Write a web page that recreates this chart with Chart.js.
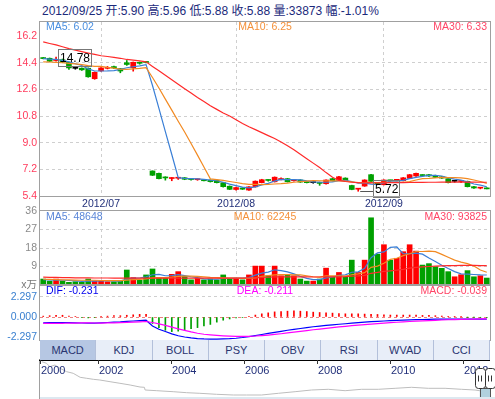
<!DOCTYPE html>
<html>
<head>
<meta charset="utf-8">
<script src="https://cdn.jsdelivr.net/npm/chart.js@4.4.1/dist/chart.umd.min.js"></script>
<style>
  body { margin: 0; background: #fff; width: 495px; height: 399px; overflow: hidden; position: relative;
         font-family: "Liberation Sans", Arial, "Noto Sans CJK SC", sans-serif; }
  canvas { position: absolute; left: 0; }
  #title { position: absolute; left: 42px; top: 1px; font-size: 12px; color: #1b2a7b; white-space: nowrap; }
  #unit { position: absolute; left: 10px; width: 27px; top: 276px; font-size: 10.5px; color: #777; text-align: right; }
  #gapLine { position: absolute; left: 39px; top: 196px; width: 1px; height: 15px; background: #a0a0a0; }
  #tabs { position: absolute; left: 40px; top: 340px; width: 450px; height: 20px; display: flex; background: #e8eef8; z-index: 2; }
  #tabs div { width: 56.25px; height: 20px; line-height: 20px; text-align: center; font-size: 11px; color: #2a3570;
              border-right: 1px solid #b3c0da; box-sizing: border-box; }
  #tabs div.on { background: #b6c7e3; }
  #strip { position: absolute; left: 40px; top: 397px; width: 455px; height: 2px; background: #dde8f0; }
</style>
</head>
<body>
<div id="title"></div>
<canvas id="priceChart" width="495" height="196" style="top:16px"></canvas>
<canvas id="volChart" width="495" height="86" style="top:205px"></canvas>
<canvas id="macdChart" width="495" height="67" style="top:279px"></canvas>
<div id="gapLine"></div>
<div id="unit">x万</div>
<div id="tabs"></div>
<canvas id="navChart" width="495" height="41" style="top:358px"></canvas>
<div id="strip"></div>
<script>
const dates = [
  "2012/06/18","2012/06/19","2012/06/20","2012/06/21","2012/06/25","2012/06/26","2012/06/27","2012/06/28","2012/06/29",
  "2012/07/02","2012/07/03","2012/07/04","2012/07/05","2012/07/06","2012/07/09","2012/07/10","2012/07/12","2012/07/13",
  "2012/07/16","2012/07/17","2012/07/18","2012/07/19","2012/07/20","2012/07/23","2012/07/24","2012/07/25","2012/07/26",
  "2012/07/27","2012/07/30","2012/07/31",
  "2012/08/01","2012/08/02","2012/08/03","2012/08/06","2012/08/07","2012/08/08","2012/08/09","2012/08/10","2012/08/13",
  "2012/08/14","2012/08/15","2012/08/16","2012/08/17","2012/08/20","2012/08/21","2012/08/22","2012/08/23","2012/08/24",
  "2012/08/27","2012/08/28","2012/08/29","2012/08/30","2012/08/31",
  "2012/09/03","2012/09/04","2012/09/05","2012/09/06","2012/09/07","2012/09/10","2012/09/11","2012/09/12","2012/09/13",
  "2012/09/14","2012/09/17","2012/09/18","2012/09/19","2012/09/20","2012/09/21","2012/09/24","2012/09/25"
];

const opens = [14.72,14.70,14.55,14.60,14.42,14.02,14.03,14.03,13.32,13.85,14.02,14.14,14.00,14.40,14.06,14.40,14.46,
  7.09,6.93,6.64,6.58,6.60,6.63,6.53,6.50,6.50,6.47,6.45,6.30,6.06,5.84,5.94,5.80,6.02,6.30,6.47,6.36,6.50,6.57,6.43,
  6.48,6.37,6.30,6.27,6.23,6.57,6.45,6.61,6.11,5.86,6.07,6.84,6.30,6.16,6.45,6.46,6.43,6.59,6.75,6.80,
  6.84,6.79,6.70,6.57,6.39,6.38,6.39,6.03,5.93,5.90];
const highs = [14.75,14.72,14.78,14.65,14.45,14.08,14.05,14.05,13.78,14.08,14.15,14.18,14.02,14.55,14.45,14.45,14.50,
  7.10,6.95,6.70,6.64,6.66,6.65,6.56,6.55,6.52,6.49,6.47,6.31,6.08,6.00,5.96,6.04,6.42,6.53,6.50,6.69,6.62,6.59,6.53,
  6.50,6.40,6.34,6.34,6.50,6.59,6.72,6.63,6.13,5.92,6.50,6.86,6.32,6.50,6.47,6.52,6.65,6.86,6.95,6.84,
  6.86,6.81,6.72,6.59,6.42,6.44,6.41,6.05,5.98,5.96];
const lows = [14.66,14.46,14.50,14.40,13.95,13.96,13.88,13.42,13.28,13.82,13.98,14.00,13.72,14.22,13.83,14.30,14.38,
  6.78,6.55,6.47,6.43,6.52,6.50,6.47,6.46,6.41,6.34,6.28,6.00,5.83,5.80,5.84,5.78,6.00,6.28,6.40,6.34,6.48,6.34,6.40,
  6.31,6.28,6.26,6.12,6.20,6.41,6.43,6.40,5.82,5.72,6.05,6.37,6.19,6.14,6.38,6.42,6.41,6.57,6.72,6.74,
  6.72,6.64,6.58,6.28,6.33,6.30,6.01,5.92,5.88,5.88];
const closes = [14.68,14.50,14.62,14.45,14.05,14.02,13.92,13.45,13.75,14.05,14.06,14.05,13.84,14.28,14.43,14.36,14.42,
  6.80,6.57,6.62,6.60,6.62,6.53,6.51,6.52,6.43,6.37,6.30,6.03,5.85,5.97,5.86,6.02,6.40,6.50,6.45,6.67,6.58,6.36,6.50,
  6.34,6.30,6.30,6.25,6.48,6.43,6.70,6.43,5.84,5.88,6.48,6.39,6.21,6.48,6.43,6.48,6.63,6.84,6.93,6.78,
  6.75,6.66,6.61,6.30,6.39,6.40,6.03,5.94,5.94,5.88];

const ma5 = [14.68,14.64,14.62,14.56,14.46,14.33,14.21,13.98,13.84,13.84,13.85,13.87,13.95,14.06,14.13,14.19,14.27,
  12.86,11.32,9.75,8.20,6.64,6.59,6.58,6.56,6.52,6.47,6.43,6.33,6.20,6.10,6.00,5.95,6.02,6.15,6.25,6.41,6.52,6.51,6.51,
  6.49,6.42,6.36,6.34,6.33,6.35,6.43,6.46,6.38,6.26,6.27,6.20,6.16,6.29,6.40,6.40,6.45,6.57,6.66,6.73,
  6.79,6.79,6.75,6.62,6.54,6.47,6.35,6.21,6.14,6.02];
const ma10 = [14.46,14.45,14.43,14.40,14.36,14.32,14.27,14.21,14.16,14.15,14.09,14.04,13.96,13.95,13.99,14.02,14.07,
  13.40,12.69,11.94,11.20,10.45,9.72,8.95,8.16,7.36,6.56,6.51,6.45,6.38,6.31,6.24,6.19,6.18,6.17,6.18,6.21,6.23,6.27,6.33,
  6.37,6.41,6.44,6.43,6.42,6.42,6.42,6.41,6.36,6.30,6.31,6.32,6.31,6.33,6.33,6.33,6.33,6.37,6.48,6.57,
  6.59,6.62,6.66,6.64,6.64,6.63,6.57,6.48,6.38,6.25];
const ma30 = [15.81,15.70,15.60,15.48,15.35,15.25,15.15,15.05,14.96,14.87,14.82,14.76,14.70,14.62,14.57,14.52,14.46,
  14.15,13.85,13.55,13.25,12.95,12.65,12.35,12.05,11.78,11.50,11.25,11.00,10.80,10.55,10.30,10.08,9.88,9.68,9.48,9.28,9.05,8.80,8.52,
  8.22,7.92,7.62,7.32,6.98,6.66,6.45,6.38,6.33,6.30,6.29,6.29,6.29,6.29,6.30,6.30,6.30,6.31,6.32,6.32,
  6.33,6.33,6.34,6.34,6.34,6.34,6.34,6.34,6.33,6.33];

// volume in 万手
const vols = [2.9,1.9,2.9,1.9,1.3,1.6,1.3,2.9,1.9,1.9,1.6,1.6,2.2,7.3,3.6,2.3,4.9,7.8,3.6,3.6,
  5.2,6.5,4.2,2.5,3.2,2.5,2.9,2.5,4.9,3.2,3.2,2.5,4.9,9.2,9.2,4.5,9.2,4.5,4.9,4.5,
  2.9,1.9,1.9,2.9,8.2,3.9,6.1,3.9,12.1,6.1,12.1,32.7,15.0,19.6,12.1,13.0,16.2,19.6,16.5,9.7,
  10.4,8.9,8.1,6.5,4.0,5.0,7.0,4.0,4.5,3.3873];
const volMA5 = [2.6,2.5,2.4,2.3,2.2,2.0,1.8,1.9,1.9,2.0,2.1,1.9,1.9,2.9,3.3,3.4,4.0,5.0,5.2,4.5,
  4.6,5.0,4.6,4.0,3.6,3.0,2.8,2.8,3.2,3.2,3.3,3.4,3.6,4.8,5.8,6.3,7.4,7.0,6.4,5.4,
  4.2,3.2,2.6,2.6,3.5,3.9,4.7,4.9,6.2,6.4,8.1,13.3,15.6,16.1,18.3,18.5,15.2,15.2,15.5,15.0,
  13.1,11.4,9.6,8.0,6.5,5.4,5.3,5.1,4.9,4.8648];
const volMA10 = [2.8,2.7,2.6,2.5,2.5,2.4,2.3,2.3,2.3,2.2,2.1,2.1,2.1,2.4,2.6,2.7,3.0,3.5,3.6,3.6,
  3.8,4.2,4.3,4.3,4.2,4.0,3.7,3.6,3.5,3.4,3.4,3.2,3.2,3.5,4.2,4.6,4.9,5.0,5.0,4.9,
  4.9,4.5,4.0,3.8,4.4,4.4,4.5,4.3,5.0,5.4,6.0,8.6,9.2,10.6,12.5,13.0,14.3,15.2,16.3,16.3,
  16.5,16.2,14.9,13.5,12.1,11.1,10.4,9.2,7.3,6.2245];
const volMA30 = [3.8,3.7,3.7,3.6,3.6,3.5,3.5,3.5,3.4,3.4,3.4,3.3,3.3,3.3,3.3,3.3,3.3,3.3,3.3,3.3,
  3.3,3.3,3.3,3.3,3.3,3.3,3.3,3.3,3.3,3.3,3.3,3.3,3.4,3.5,3.7,3.8,4.0,4.0,4.0,4.0,
  4.0,4.0,3.9,3.9,4.0,4.0,4.0,4.1,4.3,4.4,4.7,5.7,6.1,6.6,6.9,7.2,7.6,8.2,8.6,8.8,
  9.0,9.2,9.3,9.4,9.4,9.5,9.5,9.5,9.4,9.3825];

const dif = [-0.66,-0.64,-0.62,-0.62,-0.63,-0.66,-0.68,-0.70,-0.70,-0.66,-0.62,-0.58,-0.55,-0.50,-0.45,-0.40,-0.36,
  -1.02,-1.39,-1.64,-1.90,-2.12,-2.26,-2.37,-2.44,-2.48,-2.50,-2.50,-2.48,-2.45,-2.40,-2.32,-2.22,-2.10,-1.98,-1.86,
  -1.74,-1.62,-1.50,-1.40,-1.30,-1.20,-1.10,-1.02,-0.94,-0.88,-0.82,-0.76,-0.70,-0.64,-0.58,-0.53,-0.49,-0.45,
  -0.42,-0.39,-0.36,-0.33,-0.30,-0.28,-0.26,-0.25,-0.24,-0.23,-0.23,-0.23,-0.23,-0.23,-0.23,-0.231];
const dea = [-0.71,-0.72,-0.72,-0.72,-0.68,-0.69,-0.66,-0.65,-0.68,-0.69,-0.67,-0.66,-0.63,-0.60,-0.58,-0.55,-0.51,
  -0.62,-0.77,-0.95,-1.14,-1.34,-1.52,-1.69,-1.84,-1.95,-2.02,-2.08,-2.13,-2.17,-2.20,-2.20,-2.18,-2.15,-2.10,-2.04,
  -1.97,-1.89,-1.80,-1.71,-1.62,-1.53,-1.44,-1.36,-1.28,-1.20,-1.12,-1.05,-0.98,-0.92,-0.86,-0.80,-0.74,-0.69,
  -0.64,-0.59,-0.55,-0.51,-0.47,-0.43,-0.40,-0.37,-0.34,-0.31,-0.29,-0.27,-0.25,-0.23,-0.22,-0.211];
const macd = [0.10,0.15,0.20,0.20,0.10,0.05,-0.05,-0.10,-0.05,0.05,0.10,0.15,0.15,0.20,0.25,0.30,0.30,
  -0.73,-1.20,-1.50,-1.65,-1.60,-1.50,-1.31,-1.20,-1.02,-0.84,-0.58,-0.36,-0.22,-0.10,-0.05,0.05,0.22,0.36,0.47,
  0.58,0.62,0.66,0.69,0.66,0.62,0.55,0.51,0.47,0.44,0.40,0.36,0.36,0.36,0.33,0.29,0.29,0.26,
  0.22,0.22,0.22,0.22,0.22,0.18,0.18,0.15,0.11,0.07,0.04,0.02,-0.01,-0.02,-0.03,-0.039];

// long-range navigator (year, price)
const navYears = [2000.46,2000.59,2000.68,2000.82,2000.96,2001.14,2001.32,2001.51,2001.69,2001.87,2002.05,2002.33,
  2002.6,2002.88,2003.15,2003.27,2003.29,2003.61,2004.06,2004.43,2004.79,2005.25,2005.71,2006.07,2006.48,2006.94,
  2007.4,2007.85,2008.31,2008.77,2009.22,2009.68,2010.14,2010.59,2011.05,2011.51,2011.96,2012.33,2012.68];
const navValues = [36.3,34.7,31.3,33.0,29.7,26.3,24.7,20.7,19.7,18.7,18.0,16.3,14.7,13.0,11.0,10.7,8.0,7.3,6.3,
  5.3,4.7,3.7,3.0,3.0,3.0,4.7,6.3,8.0,8.7,7.3,8.7,8.7,9.7,10.7,9.7,9.7,8.7,8.0,6.0];
const navRange = [2012.46, 2012.74];

const priceTicks = [5.4, 7.2, 9.0, 10.8, 12.6, 14.4, 16.2];
const volTicks = [9, 18, 27, 36];
const macdTicks = [-2.297, 0, 2.297];
const navTickYears = [2000, 2002, 2004, 2006, 2008, 2010, 2012];
const tabNames = ["MACD", "KDJ", "BOLL", "PSY", "OBV", "RSI", "WVAD", "CCI"];

const FONT = '"Liberation Sans", Arial, sans-serif';
const UP = "#ff0000", DOWN = "#00a000", FLAT = "#000000";
const GRID = "#cfcfcf";
const last = dates.length - 1;

function candleColor(i) {
  if (closes[i] > opens[i]) return UP;
  if (closes[i] < opens[i]) return DOWN;
  return FLAT;
}
function volColor(i) {
  if (closes[i] !== opens[i]) return candleColor(i);
  return i > 0 && closes[i] < closes[i - 1] ? DOWN : UP;
}
const monthStart = (i) => i > 0 && dates[i].slice(0, 7) !== dates[i - 1].slice(0, 7);

// header
const chg = (closes[last] - closes[last - 1]) / closes[last - 1] * 100;
document.getElementById("title").textContent =
  dates[last] + " 开:" + opens[last].toFixed(2) + " 高:" + highs[last].toFixed(2) +
  " 低:" + lows[last].toFixed(2) + " 收:" + closes[last].toFixed(2) +
  " 量:" + Math.round(vols[last] * 10000) + " 幅:" + chg.toFixed(2) + "%";

document.getElementById("tabs").innerHTML = tabNames
  .map((t, i) => '<div class="' + (i === 0 ? "on" : "") + '">' + t + "</div>")
  .join("");

// plugins
const framePlugin = {
  id: "frame",
  afterDraw(chart) {
    const { ctx, chartArea: a } = chart;
    ctx.save();
    ctx.strokeStyle = "#a0a0a0";
    ctx.lineWidth = 1;
    ctx.strokeRect(a.left - 0.5, a.top - 0.5, a.right - a.left + 1, a.bottom - a.top + 1);
    ctx.restore();
  },
};

function panelText(items, dy) {
  return {
    id: "panelText",
    afterDatasetsDraw(chart) {
      const { ctx, chartArea: a } = chart;
      ctx.save();
      ctx.font = "10.5px " + FONT;
      ctx.textBaseline = "middle";
      items.forEach((it) => {
        ctx.fillStyle = it.color;
        ctx.textAlign = it.align;
        const x = it.align === "left" ? a.left + 6 : it.align === "right" ? a.right - 3 : (a.left + a.right) / 2;
        ctx.fillText(it.text, x, a.top + dy);
      });
      ctx.restore();
    },
  };
}

function drawTag(ctx, px, py, text, gap, area) {
  ctx.font = "12px " + FONT;
  const w = Math.round(ctx.measureText(text).width) + 3, h = 17;
  const bx = Math.round(px + gap);
  let by = Math.round(py - h / 2);
  if (by + h > area.bottom + 1) by = Math.round(area.bottom + 1 - h);
  if (gap > 4) {
    ctx.strokeStyle = "#555";
    ctx.beginPath();
    ctx.moveTo(px + 2, Math.round(py) + 0.5);
    ctx.lineTo(bx, Math.round(py) + 0.5);
    ctx.stroke();
  }
  ctx.strokeStyle = "#777";
  ctx.lineWidth = 1;
  ctx.strokeRect(bx + 0.5, by + 0.5, w, h);
  ctx.fillStyle = "#000";
  ctx.textAlign = "left";
  ctx.textBaseline = "middle";
  ctx.fillText(text, bx + 2, by + h / 2 + 1);
}

const extremesPlugin = {
  id: "extremes",
  afterDatasetsDraw(chart) {
    const { ctx, chartArea, scales: { x, y } } = chart;
    const hi = Math.max(...highs), lo = Math.min(...lows);
    const hiIdx = highs.indexOf(hi), loIdx = lows.indexOf(lo);
    ctx.save();
    drawTag(ctx, x.getPixelForValue(hiIdx), y.getPixelForValue(hi), hi.toFixed(2), 2, chartArea);
    drawTag(ctx, x.getPixelForValue(loIdx), y.getPixelForValue(lo), lo.toFixed(2), 15, chartArea);
    ctx.restore();
  },
};

function fixY(s) { s.width = 40; s.paddingTop = 0; s.paddingBottom = 0; }
function fixX(h) { return (s) => { s.height = h; s.paddingLeft = 0; s.paddingRight = 0; }; }

function lineSet(data, color, width) {
  return { type: "line", data: data, borderColor: color, borderWidth: width || 1.2, pointRadius: 0, tension: 0, order: 0 };
}

const base = {
  responsive: false,
  animation: false,
  devicePixelRatio: 1,
  plugins: { legend: { display: false }, tooltip: { enabled: false } },
};

const candleColors = dates.map((d, i) => candleColor(i));

// price panel
new Chart(document.getElementById("priceChart"), {
  type: "bar",
  data: {
    labels: dates,
    datasets: [
      lineSet(ma30, "#ff2a2a"),
      lineSet(ma10, "#f28a22"),
      lineSet(ma5, "#3a7fd6"),
      { data: opens.map((o, i) => [o, closes[i]]), backgroundColor: candleColors, barThickness: 5, minBarLength: 1, grouped: false, order: 1 },
      { data: lows.map((l, i) => [l, highs[i]]), backgroundColor: candleColors, barThickness: 1, grouped: false, order: 2 },
    ],
  },
  options: {
    ...base,
    layout: { padding: { left: 0, right: 5, top: 6, bottom: 0 } },
    scales: {
      x: {
        offset: true,
        grid: { offset: false, drawTicks: false, color: (c) => (monthStart(c.index) ? GRID : "transparent") },
        border: { display: false, dash: [3, 3] },
        ticks: {
          autoSkip: false, maxRotation: 0, padding: 2, color: "#22307a",
          font: { size: 10.5, family: FONT },
          callback: (v, i) => (monthStart(i) ? dates[i].slice(0, 7) : ""),
        },
        afterFit: fixX(16),
      },
      y: {
        min: 5.4, max: 17.15,
        afterBuildTicks: (s) => { s.ticks = priceTicks.map((v) => ({ value: v })); },
        grid: { drawTicks: false, color: (c) => (c.tick && c.tick.value > 5.5 && c.tick.value < 16 ? GRID : "transparent") },
        border: { display: false, dash: [3, 3] },
        ticks: { padding: 3, color: "#ff3b5c", font: { size: 10.5, family: FONT }, callback: (v) => Number(v).toFixed(1) },
        afterFit: fixY,
      },
    },
  },
  plugins: [
    extremesPlugin,
    panelText([
      { text: "MA5: " + ma5[last].toFixed(2), color: "#4a8fe0", align: "left" },
      { text: "MA10: " + ma10[last].toFixed(2), color: "#f4913a", align: "center" },
      { text: "MA30: " + ma30[last].toFixed(2), color: "#ff4466", align: "right" },
    ], 5),
    framePlugin,
  ],
});

// volume panel
new Chart(document.getElementById("volChart"), {
  type: "bar",
  data: {
    labels: dates,
    datasets: [
      lineSet(volMA30, "#ff2a2a"),
      lineSet(volMA10, "#f28a22"),
      lineSet(volMA5, "#3a7fd6"),
      { data: vols, backgroundColor: dates.map((d, i) => volColor(i)), barThickness: 5, order: 1 },
    ],
  },
  options: {
    ...base,
    layout: { padding: { left: 0, right: 5, top: 6, bottom: 6 } },
    scales: {
      x: {
        offset: true,
        grid: { offset: false, drawTicks: false, color: (c) => (monthStart(c.index) ? GRID : "transparent") },
        border: { display: false, dash: [3, 3] },
        ticks: { display: false },
        afterFit: fixX(0),
      },
      y: {
        min: 0, max: 36,
        afterBuildTicks: (s) => { s.ticks = volTicks.map((v) => ({ value: v })); },
        grid: { drawTicks: false, color: (c) => (c.tick && c.tick.value < 36 ? GRID : "transparent") },
        border: { display: false, dash: [3, 3] },
        ticks: { padding: 3, color: "#8a8a8a", font: { size: 10.5, family: FONT } },
        afterFit: fixY,
      },
    },
  },
  plugins: [
    panelText([
      { text: "MA5: " + Math.round(volMA5[last] * 10000), color: "#5a86d8", align: "left" },
      { text: "MA10: " + Math.round(volMA10[last] * 10000), color: "#f4913a", align: "center" },
      { text: "MA30: " + Math.round(volMA30[last] * 10000), color: "#ff4466", align: "right" },
    ], 6.5),
    framePlugin,
  ],
});

// MACD panel
new Chart(document.getElementById("macdChart"), {
  type: "bar",
  data: {
    labels: dates,
    datasets: [
      lineSet(dea, "#ff00ff"),
      lineSet(dif, "#0000ff"),
      { data: macd, backgroundColor: macd.map((v) => (v >= 0 ? UP : DOWN)), barThickness: 1, order: 1 },
    ],
  },
  options: {
    ...base,
    layout: { padding: { left: 0, right: 5, top: 6, bottom: 6 } },
    scales: {
      x: { display: false, offset: true },
      y: {
        min: -2.6, max: 3.62,
        afterBuildTicks: (s) => { s.ticks = macdTicks.map((v) => ({ value: v })); },
        grid: {
          drawTicks: false,
          color: (c) => (!c.tick ? "transparent" : c.tick.value === 0 ? "#ee8080" : c.tick.value > 0 ? GRID : "transparent"),
        },
        border: { display: false, dash: [3, 3] },
        ticks: { padding: 3, color: "#3a80d0", font: { size: 10.5, family: FONT }, callback: (v) => Number(v).toFixed(3) },
        afterFit: fixY,
      },
    },
  },
  plugins: [
    panelText([
      { text: "DIF: " + dif[last].toFixed(3), color: "#0000ee", align: "left" },
      { text: "DEA: " + dea[last].toFixed(3), color: "#ff00ff", align: "center" },
      { text: "MACD: " + macd[last].toFixed(3), color: "#ff4466", align: "right" },
    ], 6.5),
    framePlugin,
  ],
});

// navigator
function drawHandle(ctx, cx, top) {
  const w = 10, h = 20, x = Math.round(cx - w / 2) + 0.5, y = top + 0.5, r = 3;
  ctx.beginPath();
  ctx.moveTo(x + r, y);
  ctx.arcTo(x + w, y, x + w, y + h, r);
  ctx.arcTo(x + w, y + h, x, y + h, r);
  ctx.arcTo(x, y + h, x, y, r);
  ctx.arcTo(x, y, x + w, y, r);
  ctx.closePath();
  ctx.fillStyle = "#fff";
  ctx.fill();
  ctx.strokeStyle = "#333";
  ctx.stroke();
  ctx.beginPath();
  ctx.moveTo(x + 3, y + 7); ctx.lineTo(x + 3, y + 13);
  ctx.moveTo(x + 6, y + 7); ctx.lineTo(x + 6, y + 13);
  ctx.stroke();
}

const navPlugin = {
  id: "navDecor",
  afterDraw(chart) {
    const { ctx, chartArea: a, scales: { x } } = chart;
    ctx.save();
    ctx.strokeStyle = "#a0a0a0";
    ctx.lineWidth = 1;
    ctx.beginPath();
    ctx.moveTo(a.left - 0.5, a.top);
    ctx.lineTo(a.left - 0.5, a.bottom + 1);
    ctx.stroke();
    ctx.strokeStyle = "#000";
    ctx.lineWidth = 1.5;
    ctx.beginPath();
    ctx.moveTo(a.left - 1, a.top + 0.25);
    ctx.lineTo(a.right, a.top + 0.25);
    ctx.stroke();

    ctx.lineWidth = 1;
    ctx.strokeStyle = "#333";
    ctx.fillStyle = "#22307a";
    ctx.font = "11px " + FONT;
    ctx.textAlign = "left";
    ctx.textBaseline = "middle";
    navTickYears.forEach((yr) => {
      const px = Math.round(Math.max(a.left, x.getPixelForValue(yr))) + 0.5;
      ctx.beginPath();
      ctx.moveTo(px, a.top);
      ctx.lineTo(px, a.top + 4);
      ctx.stroke();
      ctx.fillText(String(yr), px + 0.5, a.top + 10.5);
    });

    const x0 = x.getPixelForValue(navRange[0]), x1 = x.getPixelForValue(navRange[1]);
    ctx.fillStyle = "#b1d1de";
    ctx.fillRect(x0, a.bottom - 10, x1 - x0, 10);
    ctx.strokeStyle = "#555";
    ctx.strokeRect(Math.round(x0) + 0.5, a.bottom - 9.5, Math.round(x1 - x0), 10);
    drawHandle(ctx, x0, a.top + 8);
    drawHandle(ctx, x1, a.top + 8);
    ctx.restore();
  },
};

new Chart(document.getElementById("navChart"), {
  type: "line",
  data: {
    datasets: [{
      data: navYears.map((yr, i) => ({ x: yr, y: navValues[i] })),
      borderColor: "#bdbdbd", borderWidth: 1, pointRadius: 0, tension: 0,
    }],
  },
  options: {
    ...base,
    layout: { padding: { left: 40, right: 5, top: 2, bottom: 1 } },
    scales: {
      x: { type: "linear", display: false, min: 2000.41, max: 2012.74 },
      y: { display: false, min: 0, max: 38 },
    },
  },
  plugins: [navPlugin],
});
</script>
</body>
</html>
